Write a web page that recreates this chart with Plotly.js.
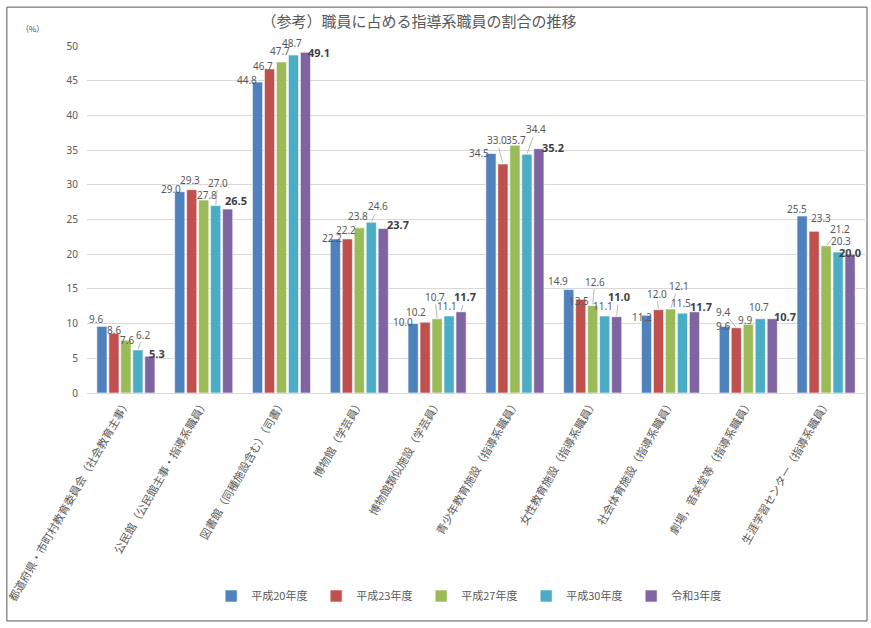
<!DOCTYPE html>
<html>
<head>
<meta charset="utf-8">
<script src="https://cdn.plot.ly/plotly-3.0.1.min.js"></script>
<style>
  html, body { margin: 0; padding: 0; background: #fff; }
  #plot { width: 871px; height: 628px; }
</style>
</head>
<body>
<div id="plot"></div>
<script>
// 職員に占める指導系職員の割合の推移 (%)
const CATEGORIES = [
  "都道府県・市町村教育委員会（社会教育主事）",
  "公民館（公民館主事・指導系職員）",
  "図書館（同種施設含む）（司書）",
  "博物館（学芸員）",
  "博物館類似施設（学芸員）",
  "青少年教育施設（指導系職員）",
  "女性教育施設（指導系職員）",
  "社会体育施設（指導系職員）",
  "劇場，音楽堂等（指導系職員）",
  "生涯学習センター（指導系職員）",
];
const SERIES_NAMES = ["平成20年度", "平成23年度", "平成27年度", "平成30年度", "令和3年度"];
const H20 = [9.6, 29.0, 44.8, 22.2, 10.0, 34.5, 14.9, 11.2, 9.6, 25.5];
const H23 = [8.6, 29.3, 46.7, 22.2, 10.2, 33.0, 13.5, 12.0, 9.4, 23.3];
const H27 = [7.6, 27.8, 47.7, 23.8, 10.7, 35.7, 12.6, 12.1, 9.9, 21.2];
const H30 = [6.2, 27.0, 48.7, 24.6, 11.1, 34.4, 11.1, 11.5, 10.7, 20.3];
const R3  = [5.3, 26.5, 49.1, 23.7, 11.7, 35.2, 11.0, 11.7, 10.7, 20.0];
const SERIES = [H20, H23, H27, H30, R3];

const COLORS = ["#4f81bd", "#c0504d", "#9bbb59", "#4bacc6", "#8064a2"];

// Label placement (pixel offset of label centre from bar top), per series, per category.
const LABEL_DX = [
  [-6, -9, -11, -3, -10, -12, -11, -5, -1, -5],
  [0, -2, -7, -1, -9, -6, -2, -2, -13, 7],
  [1, 3, -2, -1, -2, 1, 2, 8, -3, 14],
  [5, 2, -1, 7, -2, 9, -2, -1, -1, 3],
  [7, 8, 14, 15, 4, 14, 2, 7, 13, 0],
];
const LABEL_DY = [
  [-7, -3, -2, -1, -2, -1, -9, 2, 0, -7],
  [-3, -10, -3, -9, -10, -24, 2, -16, -16, -13],
  [0, -5, -11, -12, -22, -5, -24, -23, -4, -17],
  [-15, -23, -12, -16, -10, -25, -10, -10, -12, -11],
  [-3, -9, 0, -4, -15, -1, -20, -5, -2, -2],
];

const NBARS = SERIES.length;
const GROUP_FRAC = 0.77;           // 1 - bargap
const SLOT = GROUP_FRAC / NBARS;

const traces = SERIES.map((vals, k) => ({
  type: "bar",
  name: SERIES_NAMES[k],
  x: CATEGORIES,
  y: vals,
  marker: { color: COLORS[k], line: { color: "#ffffff", width: 0.6 } },
  hoverinfo: "x+y+name",
}));

const annotations = [];
SERIES.forEach((vals, k) => {
  vals.forEach((v, i) => {
    const dx = LABEL_DX[k][i], dy = LABEL_DY[k][i];
    const bold = k === NBARS - 1;
    const leader = dy <= -14;
    const base = {
      x: i + (k - (NBARS - 1) / 2) * SLOT,
      y: v,
      xref: "x", yref: "y",
      text: bold ? "<b>" + v.toFixed(1) + "</b>" : v.toFixed(1),
      font: { family: "Noto Sans, Noto Sans CJK JP, sans-serif", size: bold ? 11 : 10,
        color: bold ? "#404040" : "#595959" },
      xanchor: "center", yanchor: "middle",
      borderpad: 0,
    };
    if (leader) {
      annotations.push(Object.assign(base, {
        showarrow: true, arrowhead: 0, arrowwidth: 0.8, arrowcolor: "#a6a6a6",
        ax: dx, ay: dy, standoff: 1,
      }));
    } else {
      annotations.push(Object.assign(base, { showarrow: false, xshift: dx, yshift: -dy }));
    }
  });
});

annotations.push({
  text: "（%）", xref: "paper", yref: "paper", x: -0.07, y: 1.05,
  xanchor: "center", yanchor: "middle", showarrow: false,
  font: { family: "Noto Sans CJK JP", size: 8, color: "#404040" },
});

const layout = {
  width: 871, height: 628,
  margin: { l: 87, r: 6, t: 46, b: 235 },
  paper_bgcolor: "#ffffff",
  plot_bgcolor: "#ffffff",
  barmode: "group",
  bargap: 1 - GROUP_FRAC,
  bargroupgap: 0.15,
  font: { family: "Noto Sans CJK JP, sans-serif", color: "#595959" },
  title: {
    text: "（参考）職員に占める指導系職員の割合の推移",
    font: { family: "Noto Sans CJK JP", size: 15, color: "#595959" },
    xref: "container", x: 0.481, xanchor: "center",
    yref: "container", y: 0.965, yanchor: "middle",
  },
  xaxis: {
    type: "category",
    tickangle: -60,
    tickfont: { family: "Noto Sans CJK JP", size: 11, color: "#595959" },
    showline: false, ticks: "",
    showgrid: false,
  },
  yaxis: {
    range: [0, 50],
    dtick: 5,
    tickfont: { family: "Noto Sans, sans-serif", size: 10, color: "#595959" },
    gridcolor: "#d9d9d9", gridwidth: 1,
    zeroline: true, zerolinecolor: "#d9d9d9", zerolinewidth: 1,
    showline: false, ticks: "",
    ticklabelstandoff: 8,
  },
  showlegend: true,
  legend: {
    orientation: "h",
    x: 0.497, xanchor: "center",
    y: -0.585, yanchor: "middle",
    font: { family: "Noto Sans CJK JP", size: 11, color: "#595959" },
    itemwidth: 30,
    entrywidth: 60,
    traceorder: "normal",
  },
  annotations,
  shapes: [{
    type: "rect", xref: "paper", yref: "paper",
    x0: -0.103, x1: 1.0026, y0: -0.657, y1: 1.112,
    line: { color: "#595959", width: 1 },
    fillcolor: "rgba(0,0,0,0)",
  }],
};

Plotly.newPlot("plot", traces, layout, { displayModeBar: false, staticPlot: true });
</script>
</body>
</html>
